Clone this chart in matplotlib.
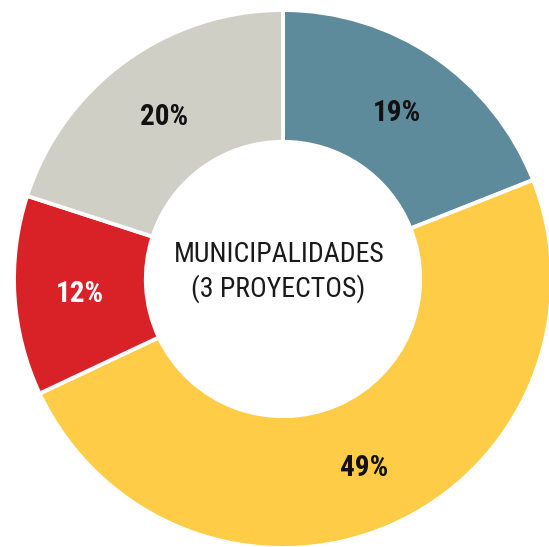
import matplotlib
matplotlib.use("Agg")
import matplotlib.pyplot as plt
import numpy as np

categories = ["Segmento 1", "Segmento 2", "Segmento 3", "Segmento 4"]
shares = [19, 49, 12, 20]
pct_labels = ["19%", "49%", "12%", "20%"]
colors = ["#5E8B9B", "#FECC46", "#D92128", "#CFCFC6"]
label_colors = ["#111111", "#111111", "#FFFFFF", "#111111"]
center_lines = ["MUNICIPALIDADES", "(3 PROYECTOS)"]

family = ["Roboto Condensed", "DejaVu Sans"]

fig = plt.figure(figsize=(5.49, 5.47), dpi=100)
ax = fig.add_axes([0, 0, 1, 1])
cx, cy, R = 283.0, 279.0, 269.0
W, H = 549.0, 547.0


def py(ypix):
    return (cy - ypix) / R


def px(xpix):
    return (xpix - cx) / R


wedges, _ = ax.pie(shares, colors=colors, startangle=90, counterclock=False,
                   radius=1.0,
                   wedgeprops=dict(width=0.49, edgecolor="white", linewidth=2.8))

ang = 90.0
cap = 20.5 / R
for s, t, c in zip(shares, pct_labels, label_colors):
    mid = ang - s * 3.6 / 2
    ang -= s * 3.6
    r = 0.755
    ax.text(r * np.cos(np.radians(mid)), r * np.sin(np.radians(mid)) - cap / 2, t,
            ha="center", va="baseline", fontsize=21, fontweight="bold",
            family=family, color=c)

ax.text(px(279), py(262), center_lines[0], ha="center", va="baseline",
        fontsize=20, family=family, color="#1A1A1A")
ax.text(px(278), py(297), center_lines[1], ha="center", va="baseline",
        fontsize=20, family=family, color="#1A1A1A")

ax.set_xlim(px(0), px(W))
ax.set_ylim(py(H), py(0))
ax.set_aspect("equal")
ax.axis("off")
fig.savefig("out.png", dpi=100)
